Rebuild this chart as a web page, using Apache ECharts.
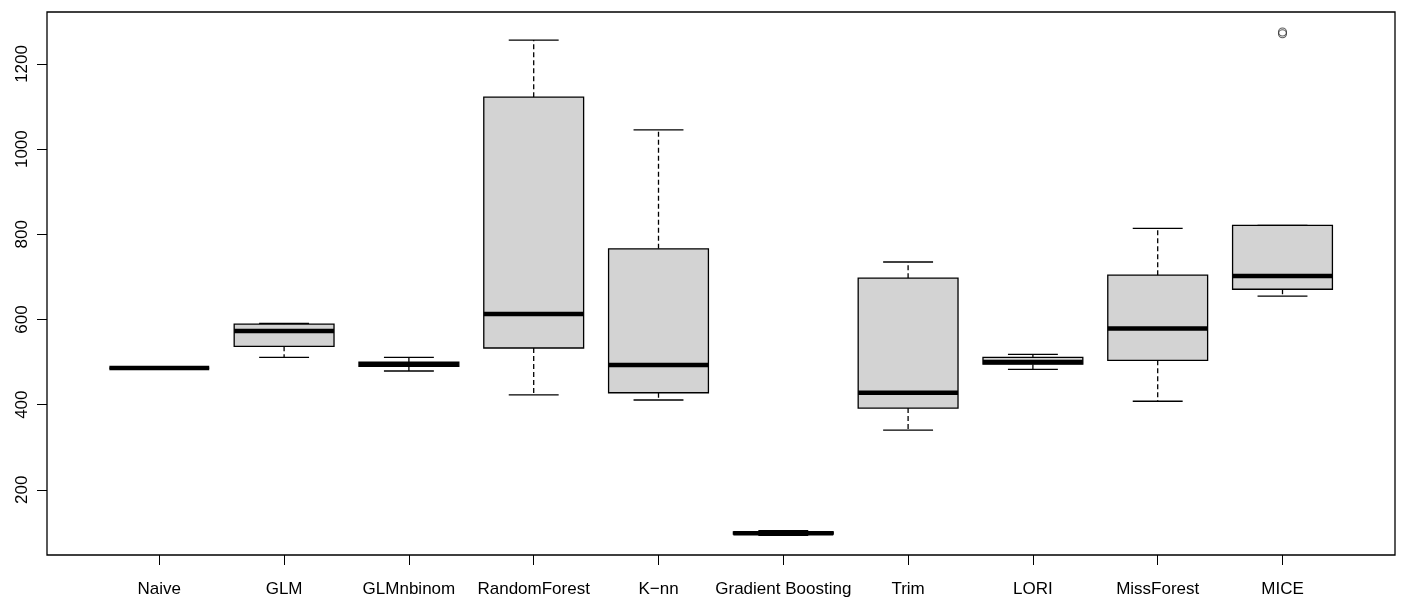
<!DOCTYPE html>
<html>
<head>
<meta charset="utf-8">
<script src="https://cdn.jsdelivr.net/npm/echarts@6/dist/echarts.min.js"></script>
<style>
html,body{margin:0;padding:0;background:#fff;}
#chart{width:1403px;height:615px;}
</style>
</head>
<body>
<div id="chart"></div>
<script>
const categories = ['Naive','GLM','GLMnbinom','RandomForest','K\u2212nn','Gradient Boosting','Trim','LORI','MissForest','MICE'];
const lowerWhisker = [486, 511, 479, 423, 411, 93, 340, 483, 408, 655];
const q1 = [486, 537, 490, 533, 428, 96, 392, 495, 504, 671];
const median = [486, 573, 495, 613, 493, 98, 428, 500, 579, 702];
const q3 = [486, 589, 500, 1122, 766, 101, 697, 511, 704, 821];
const upperWhisker = [486, 591, 511, 1256, 1045, 104, 735, 518, 814, 821];
const outliers = [[9, 1271], [9, 1275]];
const yTicks = [200, 400, 600, 800, 1000, 1200];

const boxData = categories.map((c, i) => [i, lowerWhisker[i], q1[i], median[i], q3[i], upperWhisker[i]]);

const chart = echarts.init(document.getElementById('chart'), null, {renderer: 'canvas'});

function renderBox(params, api) {
  const idx = api.value(0);
  const band = api.size([1, 0])[0];
  const boxW = band * 0.8;
  const stapW = boxW / 2;
  const x = api.coord([idx, api.value(3)])[0];
  const yMin = api.coord([idx, api.value(1)])[1];
  const yQ1 = api.coord([idx, api.value(2)])[1];
  const yMed = api.coord([idx, api.value(3)])[1];
  const yQ3 = api.coord([idx, api.value(4)])[1];
  const yMax = api.coord([idx, api.value(5)])[1];
  const solid = {stroke: '#000', lineWidth: 1.3};
  const dashed = {stroke: '#000', lineWidth: 1.3, lineDash: [5, 3]};
  return {
    type: 'group',
    children: [
      {type: 'line', shape: {x1: x, y1: yQ3, x2: x, y2: yMax}, style: dashed},
      {type: 'line', shape: {x1: x, y1: yQ1, x2: x, y2: yMin}, style: dashed},
      {type: 'line', shape: {x1: x - stapW / 2, y1: yMax, x2: x + stapW / 2, y2: yMax}, style: solid},
      {type: 'line', shape: {x1: x - stapW / 2, y1: yMin, x2: x + stapW / 2, y2: yMin}, style: solid},
      {type: 'rect', shape: {x: x - boxW / 2, y: yQ3, width: boxW, height: yQ1 - yQ3}, style: {fill: '#D3D3D3', stroke: '#000', lineWidth: 1.3}},
      {type: 'line', shape: {x1: x - boxW / 2, y1: yMed, x2: x + boxW / 2, y2: yMed}, style: {stroke: '#000', lineWidth: 4.5}}
    ]
  };
}

const option = {
  animation: false,
  backgroundColor: '#fff',
  grid: {left: 96.9, right: 58.1, top: 12, bottom: 60, containLabel: false},
  xAxis: {
    type: 'category',
    data: categories,
    boundaryGap: true,
    axisLine: {show: false},
    axisTick: {show: true, alignWithLabel: true, length: 10, lineStyle: {color: '#000', width: 1}},
    axisLabel: {color: '#000', fontSize: 17, fontFamily: 'Liberation Sans, Arial, sans-serif', margin: 26, interval: 0},
    splitLine: {show: false}
  },
  yAxis: {
    type: 'value',
    min: 47,
    max: 1322,
    offset: 49.9,
    axisLine: {show: false},
    axisTick: {show: true, length: 10, customValues: yTicks, lineStyle: {color: '#000', width: 1}},
    axisLabel: {color: '#000', fontSize: 17, fontFamily: 'Liberation Sans, Arial, sans-serif', rotate: 90, margin: 16,
      customValues: yTicks, formatter: function (v) { return String(v); }},
    splitLine: {show: false}
  },
  graphic: [{
    type: 'rect', z: 100, silent: true,
    shape: {x: 47, y: 12, width: 1348, height: 543},
    style: {fill: 'none', stroke: '#000', lineWidth: 1.3}
  }],
  series: [
    {type: 'custom', renderItem: renderBox, data: boxData, encode: {x: 0, y: [1, 2, 3, 4, 5]}, clip: false},
    {type: 'scatter', data: outliers, symbol: 'circle', symbolSize: 8,
     itemStyle: {color: 'rgba(0,0,0,0)', borderColor: '#333', borderWidth: 1.1}}
  ]
};
chart.setOption(option);
</script>
</body>
</html>
